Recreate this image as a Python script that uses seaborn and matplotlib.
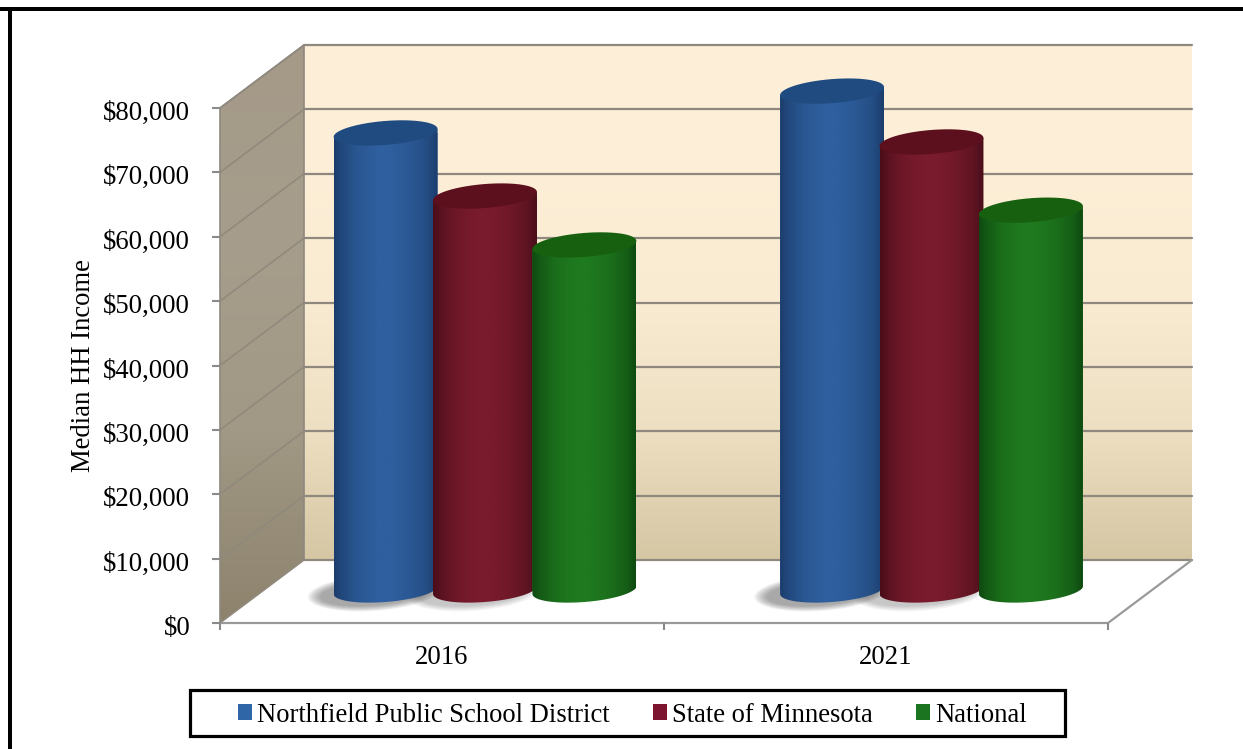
import numpy as np
import pandas as pd
import seaborn as sns
import matplotlib
matplotlib.use("Agg")
import matplotlib.pyplot as plt
from matplotlib.colors import LinearSegmentedColormap
from matplotlib.patches import Polygon, Rectangle
from matplotlib.transforms import ScaledTranslation

years = ["2016", "2021"]
series = ["Northfield Public School District", "State of Minnesota", "National"]
northfield = [71000, 77500]
minnesota = [61200, 69600]
national = [53600, 59000]
y_ticks = list(range(0, 90000, 10000))

palette = ["#2F5F9E", "#7A1B2D", "#1F7A1F"]
edge_cols = ["#1B3D6C", "#4A0E1A", "#0E4A10"]
top_cols = ["#1F4B80", "#5C0F1C", "#17600F"]
shadow_alpha = [0.055, 0.03, 0.0]

W, H = 1243, 749
DX, DY = 84, 63          # depth of the 3-D box in pixels
FX0, FX1, FY0, FY1 = 220, 1108, 623, 108   # front plane of the box

sns.set_theme(style="white")
plt.rcParams["font.family"] = ["Liberation Serif", "DejaVu Serif"]
fig = plt.figure(figsize=(W / 100, H / 100), dpi=100, facecolor="white")


def px_axes(x0, x1, y0, y1, **kw):
    """Axes placed with pixel edges (y measured from the top)."""
    return fig.add_axes([x0 / W, 1 - y0 / H, (x1 - x0) / W, (y0 - y1) / H], **kw)


# ---- decoration layer in pixel coordinates
deco = fig.add_axes([0, 0, 1, 1], zorder=0)
deco.set_xlim(0, W)
deco.set_ylim(H, 0)
deco.axis("off")
deco.add_patch(Rectangle((0, 7), W, 4, color="black", lw=0))
deco.add_patch(Rectangle((8, 7), 4, H - 7, color="black", lw=0))
deco.add_patch(Rectangle((190, 690), 875, 46, fc="white", ec="black", lw=2.3, zorder=3))

wall = LinearSegmentedColormap.from_list(
    "wall", ["#FEF0D8", "#FDEFD7", "#F9EBD1", "#EDDFC1", "#D5C6A4"])
deco.imshow(np.linspace(0, 1, 256)[:, None], cmap=wall, aspect="auto",
            extent=(FX0 + DX, FX1 + DX, FY0 - DY, FY1 - DY), zorder=1)
side = LinearSegmentedColormap.from_list(
    "side", ["#A59A88", "#A69D8C", "#A19885", "#8D836D"])
side_poly = Polygon([(FX0, FY1), (FX0 + DX, FY1 - DY), (FX0 + DX, FY0 - DY), (FX0, FY0)],
                    closed=True, fc="none", ec="none", transform=deco.transData)
deco.add_patch(side_poly)
im2 = deco.imshow(np.linspace(0, 1, 256)[:, None], cmap=side, aspect="auto",
                  extent=(FX0, FX0 + DX, FY0, FY1 - DY), zorder=1)
im2.set_clip_path(side_poly)
deco.set_xlim(0, W)
deco.set_ylim(H, 0)

grid = "#8E887E"
ky = (FY0 - FY1) / 80000
for v in y_ticks:
    yf = FY0 - v * ky
    deco.plot([FX0 + DX, FX1 + DX], [yf - DY, yf - DY], color=grid, lw=1.6, zorder=2)
    deco.plot([FX0, FX0 + DX], [yf, yf - DY], color="#8F897C", lw=1.1, zorder=2)
deco.plot([FX0, FX1, FX1 + DX], [FY0, FY0, FY0 - DY], color="#9A9A9A", lw=1.6, zorder=2)
deco.plot([FX0, FX0, FX0 + DX, FX0 + DX], [FY0, FY1, FY1 - DY, FY0 - DY], color="#8E887E", lw=1.2, zorder=2)

# ---- front axes: real ticks and labels
front = px_axes(FX0, FX1, FY0, FY1, zorder=1)
front.patch.set_alpha(0)
front.set_xlim(-0.5, 1.5)
front.set_ylim(0, 80000)
front.set_yticks(y_ticks)
front.set_yticklabels([f"${v:,}" for v in y_ticks], fontsize=19.3, color="black")
front.set_xticks([-0.5, 0.5, 1.5], minor=False)
front.set_xticklabels([])
front.set_xticks([0, 1], minor=True)
front.set_xticklabels(years, minor=True, fontsize=19.3, color="black")
front.tick_params(axis="y", which="major", length=6, width=1.5, color="#8A8A8A", pad=15.5, left=True)
front.tick_params(axis="x", which="major", length=5, width=1.5, color="#8A8A8A", bottom=True)
front.tick_params(axis="x", which="minor", length=0, pad=15.5)
for lab in front.get_yticklabels():
    lab.set_transform(lab.get_transform() + ScaledTranslation(0, -0.025, fig.dpi_scale_trans))
for s in front.spines.values():
    s.set_visible(False)
front.set_ylabel("Median HH Income", fontsize=19.2, color="black", va="center")
front.yaxis.set_label_coords(-136 / (FX1 - FX0), 0.5)

# ---- bars: seaborn, mid-depth plane of the box
MY = 33
BX0, BX1 = 261.75, 1154.75
bars = px_axes(BX0, BX1, FY0 - MY, FY1 - MY, zorder=2)
bars.patch.set_alpha(0)
df = pd.DataFrame({
    "year": years * 3,
    "series": np.repeat(series, 2),
    "value": northfield + minnesota + national,
})
sns.barplot(data=df, x="year", y="value", hue="series", hue_order=series, order=years,
            palette=palette, ax=bars, width=0.668, gap=-0.045, saturation=1, dodge=True,
            edgecolor="none", linewidth=0)
bars.set_xlim(-0.5, 1.5)
bars.set_ylim(0, 80000)
handles, labels = bars.get_legend_handles_labels()
bars.get_legend().remove()
bars.axis("off")

sx = (BX1 - BX0) / 2        # pixels per category
sy = ky                     # pixels per dollar
b_px, k_px = 12.0, 4.0      # ellipse half-height and tilt
t = np.linspace(0, 2 * np.pi, 121)

for i, (cont, edge, top) in enumerate(zip(bars.containers, edge_cols, top_cols)):
    stops = np.array([0, .08, .22, .42, .55, .72, .9, 1.0])
    grad = np.interp(np.linspace(0, 1, 256), stops, [0, .35, .75, 1, 1, .8, .45, 0])
    cm = LinearSegmentedColormap.from_list(f"g{i}", [edge, palette[i]], N=256)
    for p in cont.patches:
        x0 = p.get_x()
        w = p.get_width()
        h = p.get_height()
        cx = x0 + w / 2
        a = w / 2
        ex = cx + a * np.cos(t)
        ey = (b_px * np.sin(t) + k_px * np.cos(t)) / sy
        # soft cast shadow on the floor
        if shadow_alpha[i] > 0:
            for f in np.linspace(1, 0.1, 10):
                bars.add_patch(Polygon(
                    np.c_[cx - 12 / sx + (a + 14 * f / sx) * np.cos(t),
                          (-3 + (b_px + 6 * f) * np.sin(t) + k_px * np.cos(t)) / sy],
                    closed=True, fc="#404040", ec="none", alpha=shadow_alpha[i],
                    zorder=1, clip_on=False))
        # silhouette: lower half of the base, then the widest points of the top
        tb = np.linspace(np.pi, 2 * np.pi, 61)
        base = np.c_[cx + a * np.cos(tb), (b_px * np.sin(tb) + k_px * np.cos(tb)) / sy]
        tt = np.linspace(0, np.pi, 61)
        upper = np.c_[cx + a * np.cos(tt), h + k_px * np.cos(tt) / sy]
        outline = Polygon(np.r_[base, upper], closed=True, transform=bars.transData,
                          fc="none", ec="none")
        bars.add_patch(outline)
        outline.set_clip_on(False)
        p.set_zorder(4 + i)
        p.set_clip_box(fig.bbox)
        p.set_clip_path(outline)
        img = bars.imshow(grad[None, :], cmap=cm, vmin=0, vmax=1, aspect="auto",
                          extent=(x0, x0 + w, -20 / sy, h + 10 / sy),
                          zorder=4 + i + 0.2, interpolation="bilinear")
        img.set_clip_path(outline)
        img.set_clip_box(fig.bbox)
        bars.add_patch(Polygon(np.c_[ex, h + ey], closed=True, fc=top, ec="none",
                               zorder=4 + i + 0.4, clip_on=False))
bars.set_xlim(-0.5, 1.5)
bars.set_ylim(0, 80000)

# ---- legend (its box is drawn in the decoration layer)
leg_handles = [Rectangle((0, 0), 1, 1, color=c, lw=0) for c in ["#2F66A8", "#7E1530", "#1B7520"]]
leg = fig.legend(leg_handles, labels, loc="center", bbox_to_anchor=(632 / W, 1 - 715 / H),
                 ncol=3, fontsize=19.2, frameon=False,
                 handlelength=0.55, handleheight=0.55, handletextpad=0.17,
                 columnspacing=1.62, borderpad=0, borderaxespad=0)
for tx in leg.get_texts():
    tx.set_color("black")

fig.savefig("out.png", dpi=100, facecolor="white")
